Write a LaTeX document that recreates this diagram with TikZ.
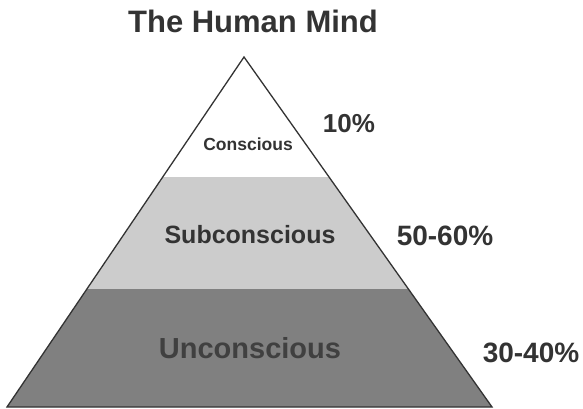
\documentclass[tikz,border=0pt]{standalone}
\usepackage{fontspec}
\setmainfont{Liberation Sans}
\definecolor{ink}{HTML}{333333}
\definecolor{midgray}{HTML}{CCCCCC}
\definecolor{deepgray}{HTML}{808080}
\definecolor{deepink}{HTML}{404040}
\begin{document}
\begin{tikzpicture}[x=1pt,y=-1pt,
  lbl/.style={font=\bfseries, text=ink, inner sep=0pt, anchor=base},
  edge/.style={draw=ink, line width=1.3pt, line join=miter}]
\useasboundingbox (0,0) rectangle (583,409);
% pyramid corners
\coordinate (apex) at (244,57);
\coordinate (bl) at (7,407);
\coordinate (br) at (492,407);
% layered fills, clipped to the pyramid
\begin{scope}
  \clip (apex) -- (bl) -- (br) -- cycle;
  \fill[white] (0,50) rectangle (583,177);
  \fill[midgray] (0,177) rectangle (583,289);
  \fill[deepgray] (0,289) rectangle (583,410);
\end{scope}
\draw[edge] (apex) -- (bl) -- (br) -- cycle;
% labels
\node[lbl, font=\fontsize{31}{31}\selectfont\bfseries] (title) at (253,33) {The Human Mind};
\node[lbl, font=\fontsize{17.5}{17.5}\selectfont\bfseries] (conscious) at (248,150) {Conscious};
\node[lbl, font=\fontsize{25}{25}\selectfont\bfseries] (sub) at (250,243) {Subconscious};
\node[lbl, text=deepink, font=\fontsize{29}{29}\selectfont\bfseries] (uncon) at (250,358) {Unconscious};
\node[lbl, font=\fontsize{26}{26}\selectfont\bfseries] (p10) at (349,132) {10\%};
\node[lbl, font=\fontsize{28}{28}\selectfont\bfseries] (p50) at (445,245) {50-60\%};
\node[lbl, font=\fontsize{28}{28}\selectfont\bfseries] (p30) at (531,362) {30-40\%};
\end{tikzpicture}
\end{document}
